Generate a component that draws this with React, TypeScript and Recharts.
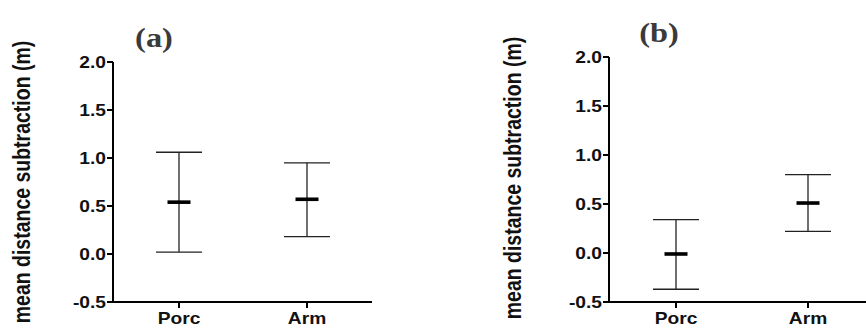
import React from 'react'
import { ComposedChart, Scatter, ErrorBar, XAxis, YAxis } from 'recharts'

const categories = ['Porc', 'Arm']
const yTicks = [-0.5, 0, 0.5, 1, 1.5, 2]

// panel (a)
const meanA = [0.54, 0.57]
const lowA = [0.02, 0.18]
const highA = [1.06, 0.95]

// panel (b)
const meanB = [-0.01, 0.51]
const lowB = [-0.37, 0.22]
const highB = [0.34, 0.8]

const yLabel = 'mean distance subtraction (m)'
const SANS = '"Liberation Sans", Arial, sans-serif'
const SERIF = '"Liberation Serif", "Times New Roman", serif'
const STRETCH = 1.2

function buildRows(mean: number[], low: number[], high: number[]) {
  return categories.map((name, i) => ({
    name,
    mean: mean[i],
    err: [mean[i] - low[i], high[i] - mean[i]]
  }))
}

const YTick = (props: any) => {
  const { x, y, payload } = props
  return (
    <g transform={`translate(${x},${y})`}>
      <text
        transform={`scale(${STRETCH},1)`}
        textAnchor="end"
        dy="0.36em"
        fontFamily={SANS}
        fontWeight="bold"
        fontSize={16}
        fill="#111"
      >
        {Number(payload.value).toFixed(1)}
      </text>
    </g>
  )
}

const XTick = (props: any) => {
  const { x, y, payload } = props
  return (
    <g transform={`translate(${x},${y})`}>
      <text
        transform={`scale(${STRETCH},1)`}
        textAnchor="middle"
        dy="0.95em"
        fontFamily={SANS}
        fontWeight="bold"
        fontSize={16}
        fill="#111"
      >
        {payload.value}
      </text>
    </g>
  )
}

const MeanBar = (props: any) => {
  const { cx, cy } = props
  if (cx == null || cy == null) return <g />
  return <rect x={cx - 11.5} y={cy - 1.8} width={23} height={3.6} fill="#000" />
}

interface PanelProps {
  title: string
  mean: number[]
  low: number[]
  high: number[]
  left: number
  width: number
  axisWidth: number
  top: number
  right: number
  pad: { left: number; right: number }
  labelX: number
  labelY: number
  titleX: number
  titleY: number
}

function Panel({ title, mean, low, high, left, width, axisWidth, top, right, pad, labelX, labelY, titleX, titleY }: PanelProps) {
  const rows = buildRows(mean, low, high)
  return (
    <div style={{ position: 'absolute', left, top: 0, width, height: 328 }}>
      <ComposedChart width={width} height={328} data={rows} margin={{ top, right, bottom: 0, left: 0 }}>
        <XAxis
          dataKey="name"
          type="category"
          height={26}
          padding={pad}
          axisLine={{ stroke: '#000', strokeWidth: 2 }}
          tickLine={{ stroke: '#000', strokeWidth: 2 }}
          tickSize={6}
          tickMargin={1}
          tick={<XTick />}
          interval={0}
        />
        <YAxis
          type="number"
          domain={[-0.5, 2]}
          ticks={yTicks}
          width={axisWidth}
          axisLine={{ stroke: '#000', strokeWidth: 2 }}
          tickLine={{ stroke: '#000', strokeWidth: 2 }}
          tickSize={6}
          tickMargin={1}
          tick={<YTick />}
          interval={0}
          label={{
            content: () => (
              <g>
                <g transform={`translate(${labelX},${labelY}) scale(${STRETCH},1) rotate(-90)`}>
                  <text
                    textAnchor="middle"
                    dy="0.35em"
                    fontFamily={SANS}
                    fontWeight="bold"
                    fontSize={19.5}
                    fill="#111"
                  >
                    {yLabel}
                  </text>
                </g>
                <g transform={`translate(${titleX},${titleY}) scale(${STRETCH},1)`}>
                  <text textAnchor="middle" fontFamily={SERIF} fontWeight="bold" fontSize={27} fill="#3a3a3a">
                    {title}
                  </text>
                </g>
              </g>
            )
          }}
        />
        <Scatter dataKey="mean" shape={<MeanBar />} isAnimationActive={false}>
          <ErrorBar dataKey="err" direction="y" width={23} stroke="#222" strokeWidth={1.3} isAnimationActive={false} />
        </Scatter>
      </ComposedChart>
    </div>
  )
}

export default function App() {
  return (
    <div style={{ position: 'absolute', left: 0, top: 0, width: 866, height: 328, overflow: 'hidden', background: '#fff' }}>
      <Panel
        title="(a)"
        mean={meanA}
        low={lowA}
        high={highA}
        left={0}
        width={433}
        axisWidth={113}
        top={62}
        right={61}
        pad={{ left: 66, right: 65 }}
        labelX={22}
        labelY={182}
        titleX={154}
        titleY={47}
      />
      <Panel
        title="(b)"
        mean={meanB}
        low={lowB}
        high={highB}
        left={433}
        width={440}
        axisWidth={176}
        top={57}
        right={0}
        pad={{ left: 67, right: 65 }}
        labelX={80}
        labelY={178}
        titleX={226}
        titleY={42}
      />
    </div>
  )
}
